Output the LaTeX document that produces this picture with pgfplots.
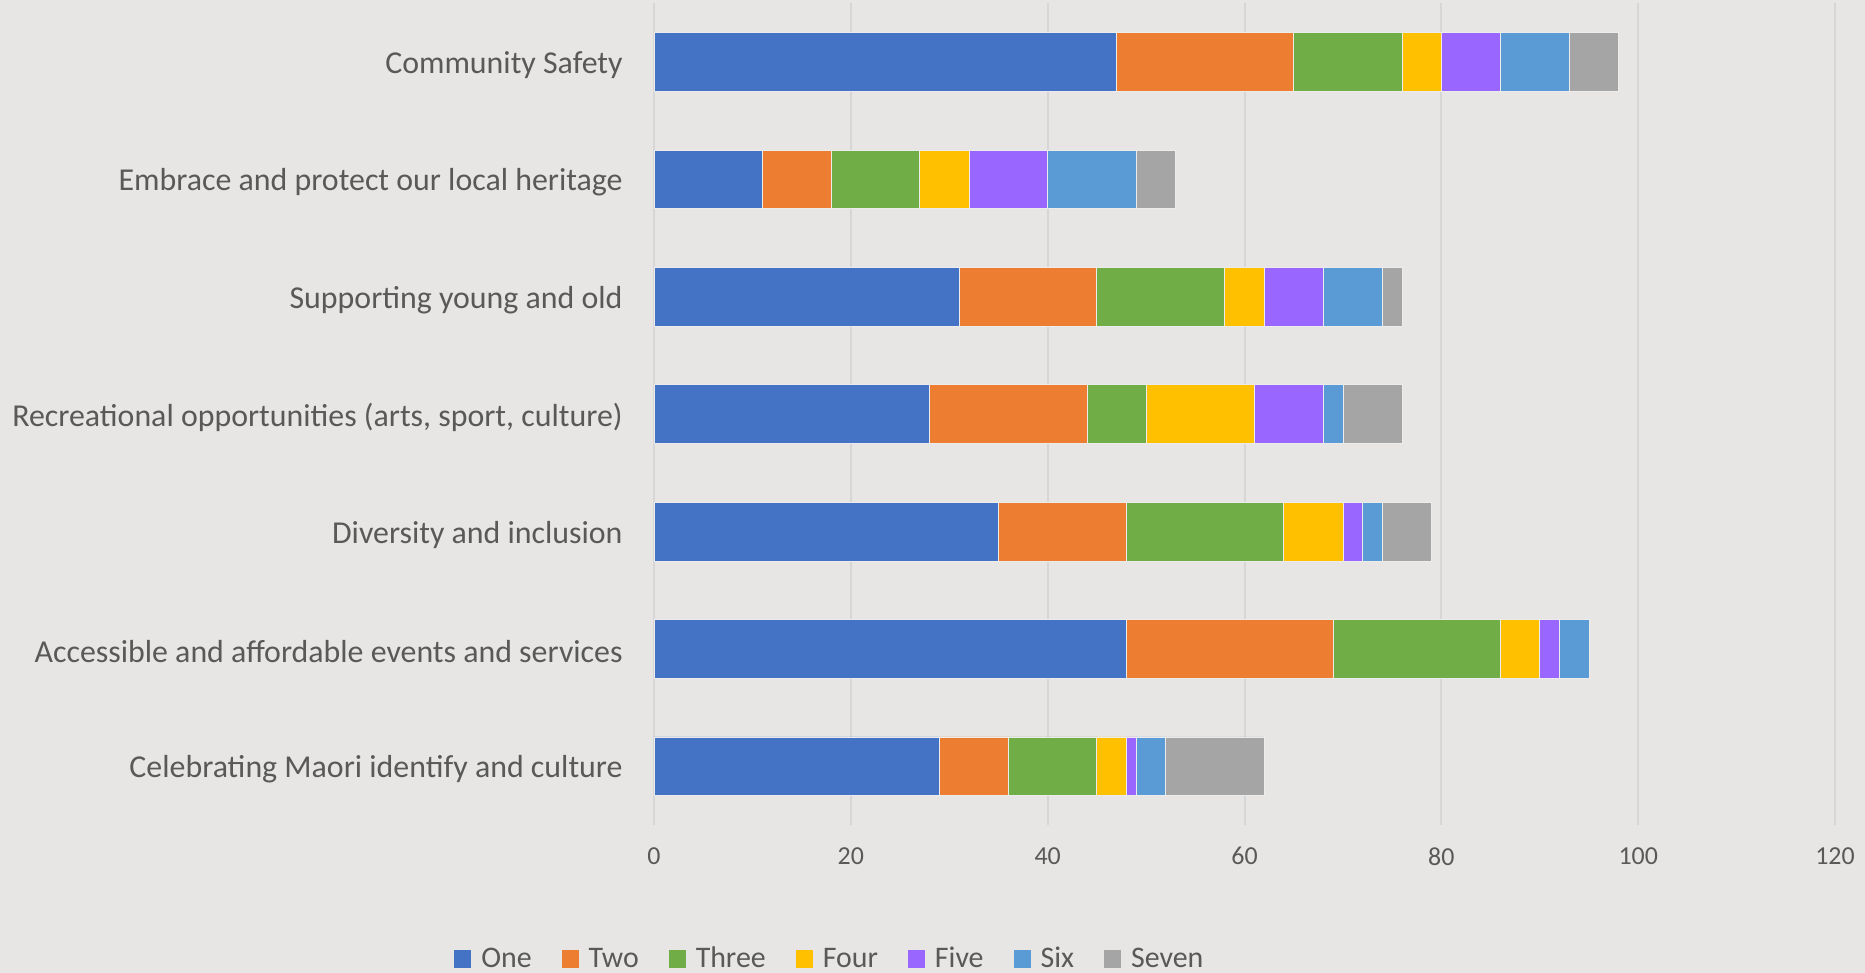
\documentclass[border=0pt]{standalone}
\usepackage{fontspec}
\setmainfont{Carlito}
\usepackage{pgfplots}
\pgfplotsset{compat=1.18}
\definecolor{bgc}{RGB}{231,230,228}
\definecolor{gridc}{RGB}{214,214,214}
\definecolor{textc}{RGB}{89,89,89}
\definecolor{cone}{RGB}{68,114,196}
\definecolor{ctwo}{RGB}{237,125,49}
\definecolor{cthree}{RGB}{112,173,71}
\definecolor{cfour}{RGB}{255,192,0}
\definecolor{cfive}{RGB}{153,102,255}
\definecolor{csix}{RGB}{91,155,213}
\definecolor{cseven}{RGB}{165,165,165}
\begin{document}
\begin{tikzpicture}[x=1bp,y=1bp]
\fill[bgc] (0,0) rectangle (932.5,486.5);
\useasboundingbox (0,0) rectangle (932.5,486.5);
\begin{axis}[
  at={(327bp,74bp)}, anchor=south west,
  scale only axis, width=590.5bp, height=410.8bp,
  xbar stacked, bar width=0.5,
  xmin=0, xmax=120, ymin=-0.5, ymax=6.5, y dir=reverse,
  xtick={0,20,...,120}, ytick={0,...,6},
  yticklabels={Community Safety, Embrace and protect our local heritage, Supporting young and old, {Recreational opportunities (arts, sport, culture)}, Diversity and inclusion, Accessible and affordable events and services, Celebrating Maori identify and culture},
  axis line style={draw=none}, major tick length=0pt,
  xmajorgrids, grid style={color=gridc, line width=1bp},
  /pgf/number format/assume math mode=true,
  tick label style={text=textc},
  xticklabel style={font=\fontsize{13}{15}\selectfont, inner sep=0pt, yshift=-11bp},
  yticklabel style={font=\fontsize{16}{19}\selectfont, inner sep=0pt, xshift=-15.5bp, yshift=-1.5bp},
  legend columns=7,
  legend style={draw=none, fill=none, at={(axis description cs:0.1497,0)}, anchor=center, yshift=-67bp,
    font=\fontsize{15}{18}\selectfont, text=textc,
    /tikz/every odd column/.append style={column sep=3bp},
    /tikz/every even column/.append style={column sep=13bp}},
  legend cell align=left,
  legend image code/.code={\fill[#1,draw=none] (0bp,-4.5bp) rectangle (8.5bp,4.5bp);},
  every axis plot/.append style={draw=white!85!gray, line width=0.4bp},
]
\addplot[fill=cone] coordinates {(47,0) (11,1) (31,2) (28,3) (35,4) (48,5) (29,6)};
\addplot[fill=ctwo] coordinates {(18,0) (7,1) (14,2) (16,3) (13,4) (21,5) (7,6)};
\addplot[fill=cthree] coordinates {(11,0) (9,1) (13,2) (6,3) (16,4) (17,5) (9,6)};
\addplot[fill=cfour] coordinates {(4,0) (5,1) (4,2) (11,3) (6,4) (4,5) (3,6)};
\addplot[fill=cfive] coordinates {(6,0) (8,1) (6,2) (7,3) (2,4) (2,5) (1,6)};
\addplot[fill=csix] coordinates {(7,0) (9,1) (6,2) (2,3) (2,4) (3,5) (3,6)};
\addplot[fill=cseven] coordinates {(5,0) (4,1) (2,2) (6,3) (5,4) (0,5) (10,6)};
\legend{One, Two, Three, Four, Five, Six, Seven}
\end{axis}
\end{tikzpicture}
\end{document}
